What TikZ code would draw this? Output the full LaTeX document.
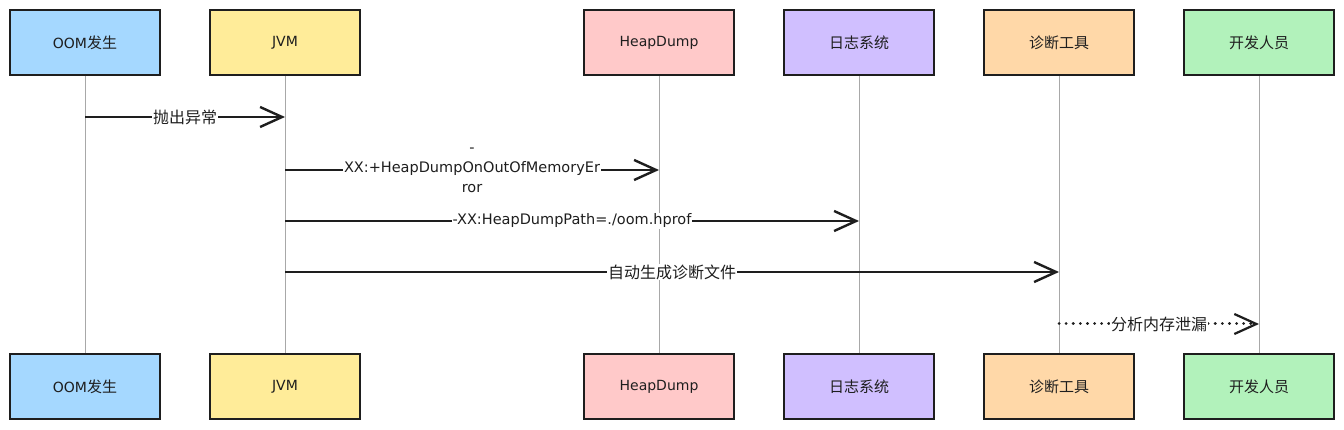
\documentclass[tikz,border=0pt]{standalone}
\usepackage{fontspec}
\setmainfont{DejaVu Sans}
\newfontfamily\cjk{Noto Sans CJK SC}
\usetikzlibrary{arrows.meta}
\definecolor{ink}{HTML}{1E1E1E}
\definecolor{cblue}{HTML}{A5D8FF}
\definecolor{cyellow}{HTML}{FFEC99}
\definecolor{cpink}{HTML}{FFC9C9}
\definecolor{cpurple}{HTML}{D0BFFF}
\definecolor{corange}{HTML}{FFD8A8}
\definecolor{cgreen}{HTML}{B2F2BB}
\definecolor{lifegray}{HTML}{A8A8A8}
\newcommand{\bc}[1]{{\fontsize{15}{17}\selectfont\cjk #1}}
\newcommand{\ac}[1]{{\fontsize{16}{19}\selectfont\cjk #1}}
\begin{document}
\begin{tikzpicture}[x=1pt,y=-1pt,
  actor/.style={draw=ink, line width=1.8pt, minimum width=150pt, minimum height=65pt, inner sep=0pt, text=ink, font=\fontsize{14}{16}\selectfont},
  life/.style={draw=lifegray, line width=1pt},
  msg/.style={draw=ink, line width=2.2pt, -{Straight Barb[length=22pt,width=20pt,line width=2.4pt]}},
  dmsg/.style={draw=ink, line width=3pt, line cap=round, dash pattern=on 0.1pt off 7pt, -{Straight Barb[length=22pt,width=20pt,line width=2.2pt]}},
  lbl/.style={fill=white, inner sep=1pt, text=ink, align=center, font=\fontsize{14.5}{20}\selectfont}]
\useasboundingbox[fill=white] (0,0) rectangle (1344,430);

% top actors
\node[actor, fill=cblue]   (t1) at (85,42.5)   {OOM\bc{发生}};
\node[actor, fill=cyellow] (t2) at (285,42.5)  {JVM};
\node[actor, fill=cpink]   (t3) at (659,42.5)  {HeapDump};
\node[actor, fill=cpurple] (t4) at (859,42.5)  {\bc{日志系统}};
\node[actor, fill=corange] (t5) at (1059,42.5) {\bc{诊断工具}};
\node[actor, fill=cgreen]  (t6) at (1259,42.5) {\bc{开发人员}};
% bottom actors
\node[actor, fill=cblue]   (b1) at (85,386.5)   {OOM\bc{发生}};
\node[actor, fill=cyellow] (b2) at (285,386.5)  {JVM};
\node[actor, fill=cpink]   (b3) at (659,386.5)  {HeapDump};
\node[actor, fill=cpurple] (b4) at (859,386.5)  {\bc{日志系统}};
\node[actor, fill=corange] (b5) at (1059,386.5) {\bc{诊断工具}};
\node[actor, fill=cgreen]  (b6) at (1259,386.5) {\bc{开发人员}};

% lifelines
\foreach \i in {1,...,6} { \draw[life] (t\i) -- (b\i); }

% message points
\coordinate (m1a) at (85,117);   \coordinate (m1b) at (285,117);
\coordinate (m2a) at (285,170);  \coordinate (m2b) at (659,170);
\coordinate (m3a) at (285,221);  \coordinate (m3b) at (859,221);
\coordinate (m4a) at (285,272);  \coordinate (m4b) at (1059,272);
\coordinate (m5a) at (1059,324); \coordinate (m5b) at (1259,324);

\draw[msg] (m1a) -- node[lbl] {\ac{抛出异常}} (m1b);
\draw[msg] (m2a) -- node[lbl] {-\\XX:+HeapDumpOnOutOfMemoryEr\\ror} (m2b);
\draw[msg] (m3a) -- node[lbl] {-XX:HeapDumpPath=./oom.hprof} (m3b);
\draw[msg] (m4a) -- node[lbl] {\ac{自动生成诊断文件}} (m4b);
\draw[dmsg] (m5a) -- node[lbl] {\ac{分析内存泄漏}} (m5b);
\end{tikzpicture}
\end{document}
